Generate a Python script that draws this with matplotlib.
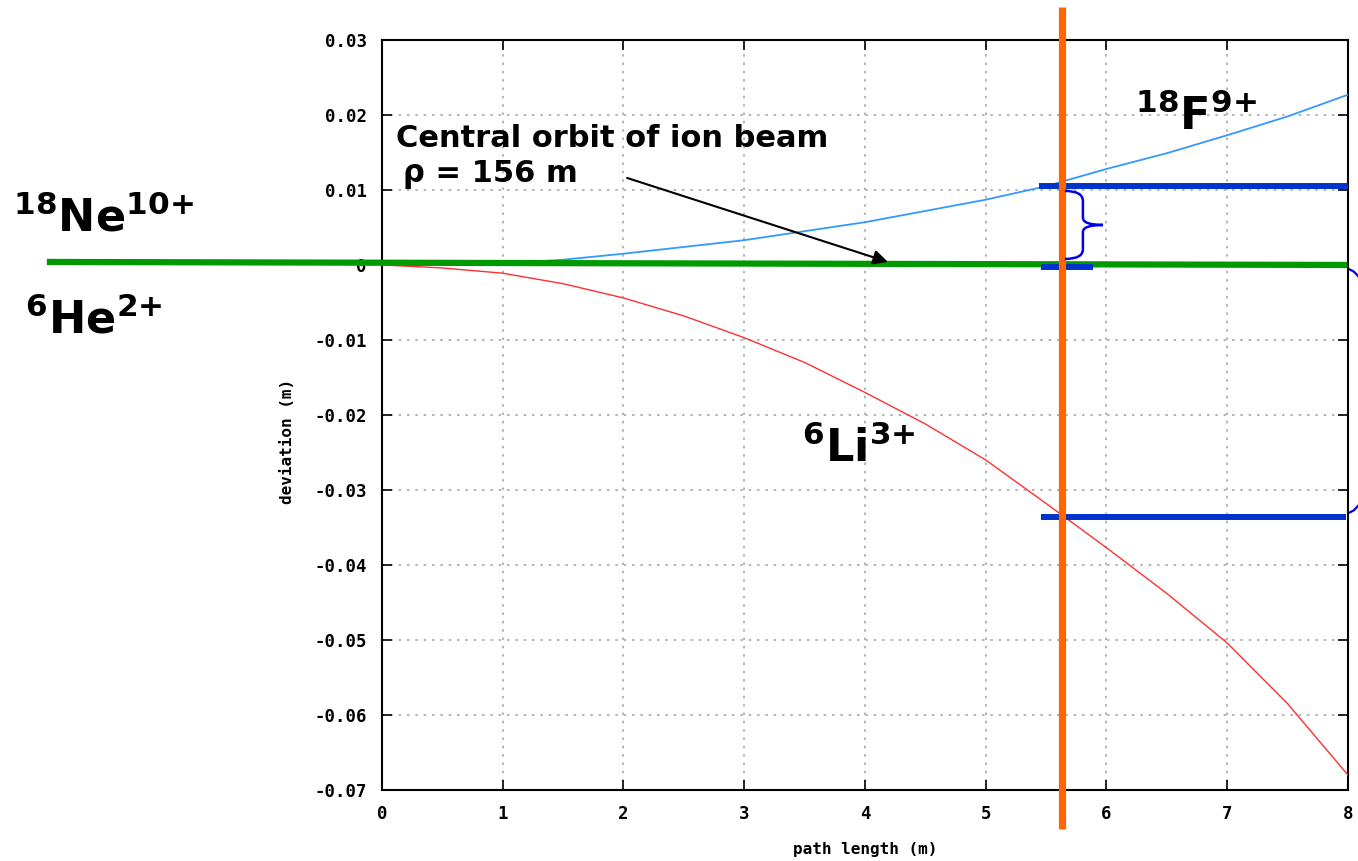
import matplotlib
matplotlib.use("Agg")
import matplotlib.pyplot as plt
from matplotlib.path import Path
from matplotlib.patches import PathPatch

plt.rcParams['mathtext.fontset'] = 'custom'
plt.rcParams['mathtext.rm'] = 'DejaVu Sans:bold'
plt.rcParams['mathtext.default'] = 'rm'

# path length (m) and deviations (m)
path_len = [0, 0.5, 1, 1.5, 2, 2.5, 3, 3.5, 4, 4.5, 5, 5.5, 6, 6.5, 7, 7.5, 8]
dev_f18 = [0, 0, 0.0002, 0.0007, 0.0015, 0.0024, 0.0033, 0.0045, 0.0057, 0.0072,
           0.0087, 0.0105, 0.0128, 0.0149, 0.0173, 0.0198, 0.0227]
dev_li6 = [0, -0.0004, -0.0011, -0.0025, -0.0044, -0.0068, -0.0097, -0.013, -0.017,
           -0.0212, -0.026, -0.0318, -0.0377, -0.0438, -0.0504, -0.0585, -0.068]
orbit_x = [-2.75, 7.97]
orbit_y = [0.0004, 0.0]
exit_x = 5.63
bar_top = ([5.44, 8.0], 0.0105)
bar_mid = ([5.46, 5.89], -0.0003)
bar_low = ([5.46, 7.98], -0.0336)

xticks = [0, 1, 2, 3, 4, 5, 6, 7, 8]
yticks = [0.03, 0.02, 0.01, 0, -0.01, -0.02, -0.03, -0.04, -0.05, -0.06, -0.07]
ytick_labels = ['0.03', '0.02', '0.01', '0', '-0.01', '-0.02', '-0.03',
                '-0.04', '-0.05', '-0.06', '-0.07']

fig = plt.figure(figsize=(13.58, 8.61), dpi=100)
ax = fig.add_axes([0.2813, 0.0825, 0.7113, 0.8711])

ax.plot(path_len, dev_f18, color='#3399ff', lw=1.3, zorder=3)
ax.plot(path_len, dev_li6, color='#ff3030', lw=1.0, zorder=3)
ax.plot(orbit_x, orbit_y, color='#009a00', lw=4.5, clip_on=False, zorder=4)

for xs, y in (bar_top, bar_mid, bar_low):
    ax.plot(xs, [y, y], color='#0033cc', lw=4.3, solid_capstyle='butt', zorder=5)

ax.plot([exit_x, exit_x], [0.0344, -0.0752], color='#ff6600', lw=5.2,
        solid_capstyle='butt', clip_on=False, zorder=6)

# curly brace between the two upper bars
verts = [(5.656, 0.00987), (5.805, 0.00987), (5.805, 0.0085), (5.805, 0.0063),
         (5.805, 0.00533), (5.971, 0.00533), (5.805, 0.00533), (5.805, 0.0044),
         (5.805, 0.0021), (5.805, 0.0008), (5.656, 0.0008)]
codes = [Path.MOVETO, Path.CURVE3, Path.CURVE3, Path.LINETO, Path.CURVE3, Path.CURVE3,
         Path.CURVE3, Path.CURVE3, Path.LINETO, Path.CURVE3, Path.CURVE3]
ax.add_patch(PathPatch(Path(verts, codes), fill=False, edgecolor='#0000ee', lw=1.8, zorder=7))

# clipped brace stubs at the right edge
ax.plot([8.015, 8.05, 8.09], [-0.0006, -0.0009, -0.0016], color='#0000ee', lw=1.6, clip_on=False)
ax.plot([8.015, 8.05, 8.09], [-0.0330, -0.0327, -0.0320], color='#0000ee', lw=1.6, clip_on=False)

ax.annotate('', xy=(4.19, 0.0004), xytext=(2.03, 0.0116),
            arrowprops=dict(arrowstyle='-|>', color='black', lw=1.5,
                            mutation_scale=22, shrinkA=0, shrinkB=0), zorder=8)

lab = dict(fontweight='bold', family='DejaVu Sans', color='black', va='baseline', ha='left')
ax.text(0.12, 0.01573, 'Central orbit of ion beam', fontsize=22, **lab)
ax.text(0.17, 0.01107, 'ρ = 156 m', fontsize=22, **lab)
ax.text(-3.06, 0.0044, r'$^{18}$Ne$^{10{+}}$', fontsize=32, **lab)
ax.text(-2.96, -0.0091, r'$^{6}$He$^{2{+}}$', fontsize=32, **lab)
ax.text(6.24, 0.018, r'$^{18}$F$^{9{+}}$', fontsize=32, **lab)
ax.text(3.48, -0.0263, r'$^{6}$Li$^{3{+}}$', fontsize=32, **lab)

ax.set_xlim(0, 8)
ax.set_ylim(-0.07, 0.03)
ax.set_xticks(xticks)
ax.set_xticklabels([str(t) for t in xticks])
ax.set_yticks(yticks)
ax.set_yticklabels(ytick_labels)
for t in ax.get_xticklabels() + ax.get_yticklabels():
    t.set_fontfamily('DejaVu Sans Mono')
    t.set_fontweight('bold')
    t.set_fontsize(12.5)
ax.tick_params(direction='in', length=7, width=1.2, top=True, right=True, pad=11)
ax.grid(True, color='#a8a8a8', linestyle=(0, (1.5, 3.5)), lw=1.2)
for s in ax.spines.values():
    s.set_linewidth(1.5)

axis_font = dict(family='DejaVu Sans Mono', fontweight='bold', fontsize=11.5)
ax.set_xlabel('path length (m)', **axis_font)
ax.set_ylabel('deviation (m)', **axis_font)
ax.xaxis.set_label_coords(0.5, -0.069)
ax.yaxis.set_label_coords(-0.09, 0.465)

fig.savefig('out.png', dpi=100)
